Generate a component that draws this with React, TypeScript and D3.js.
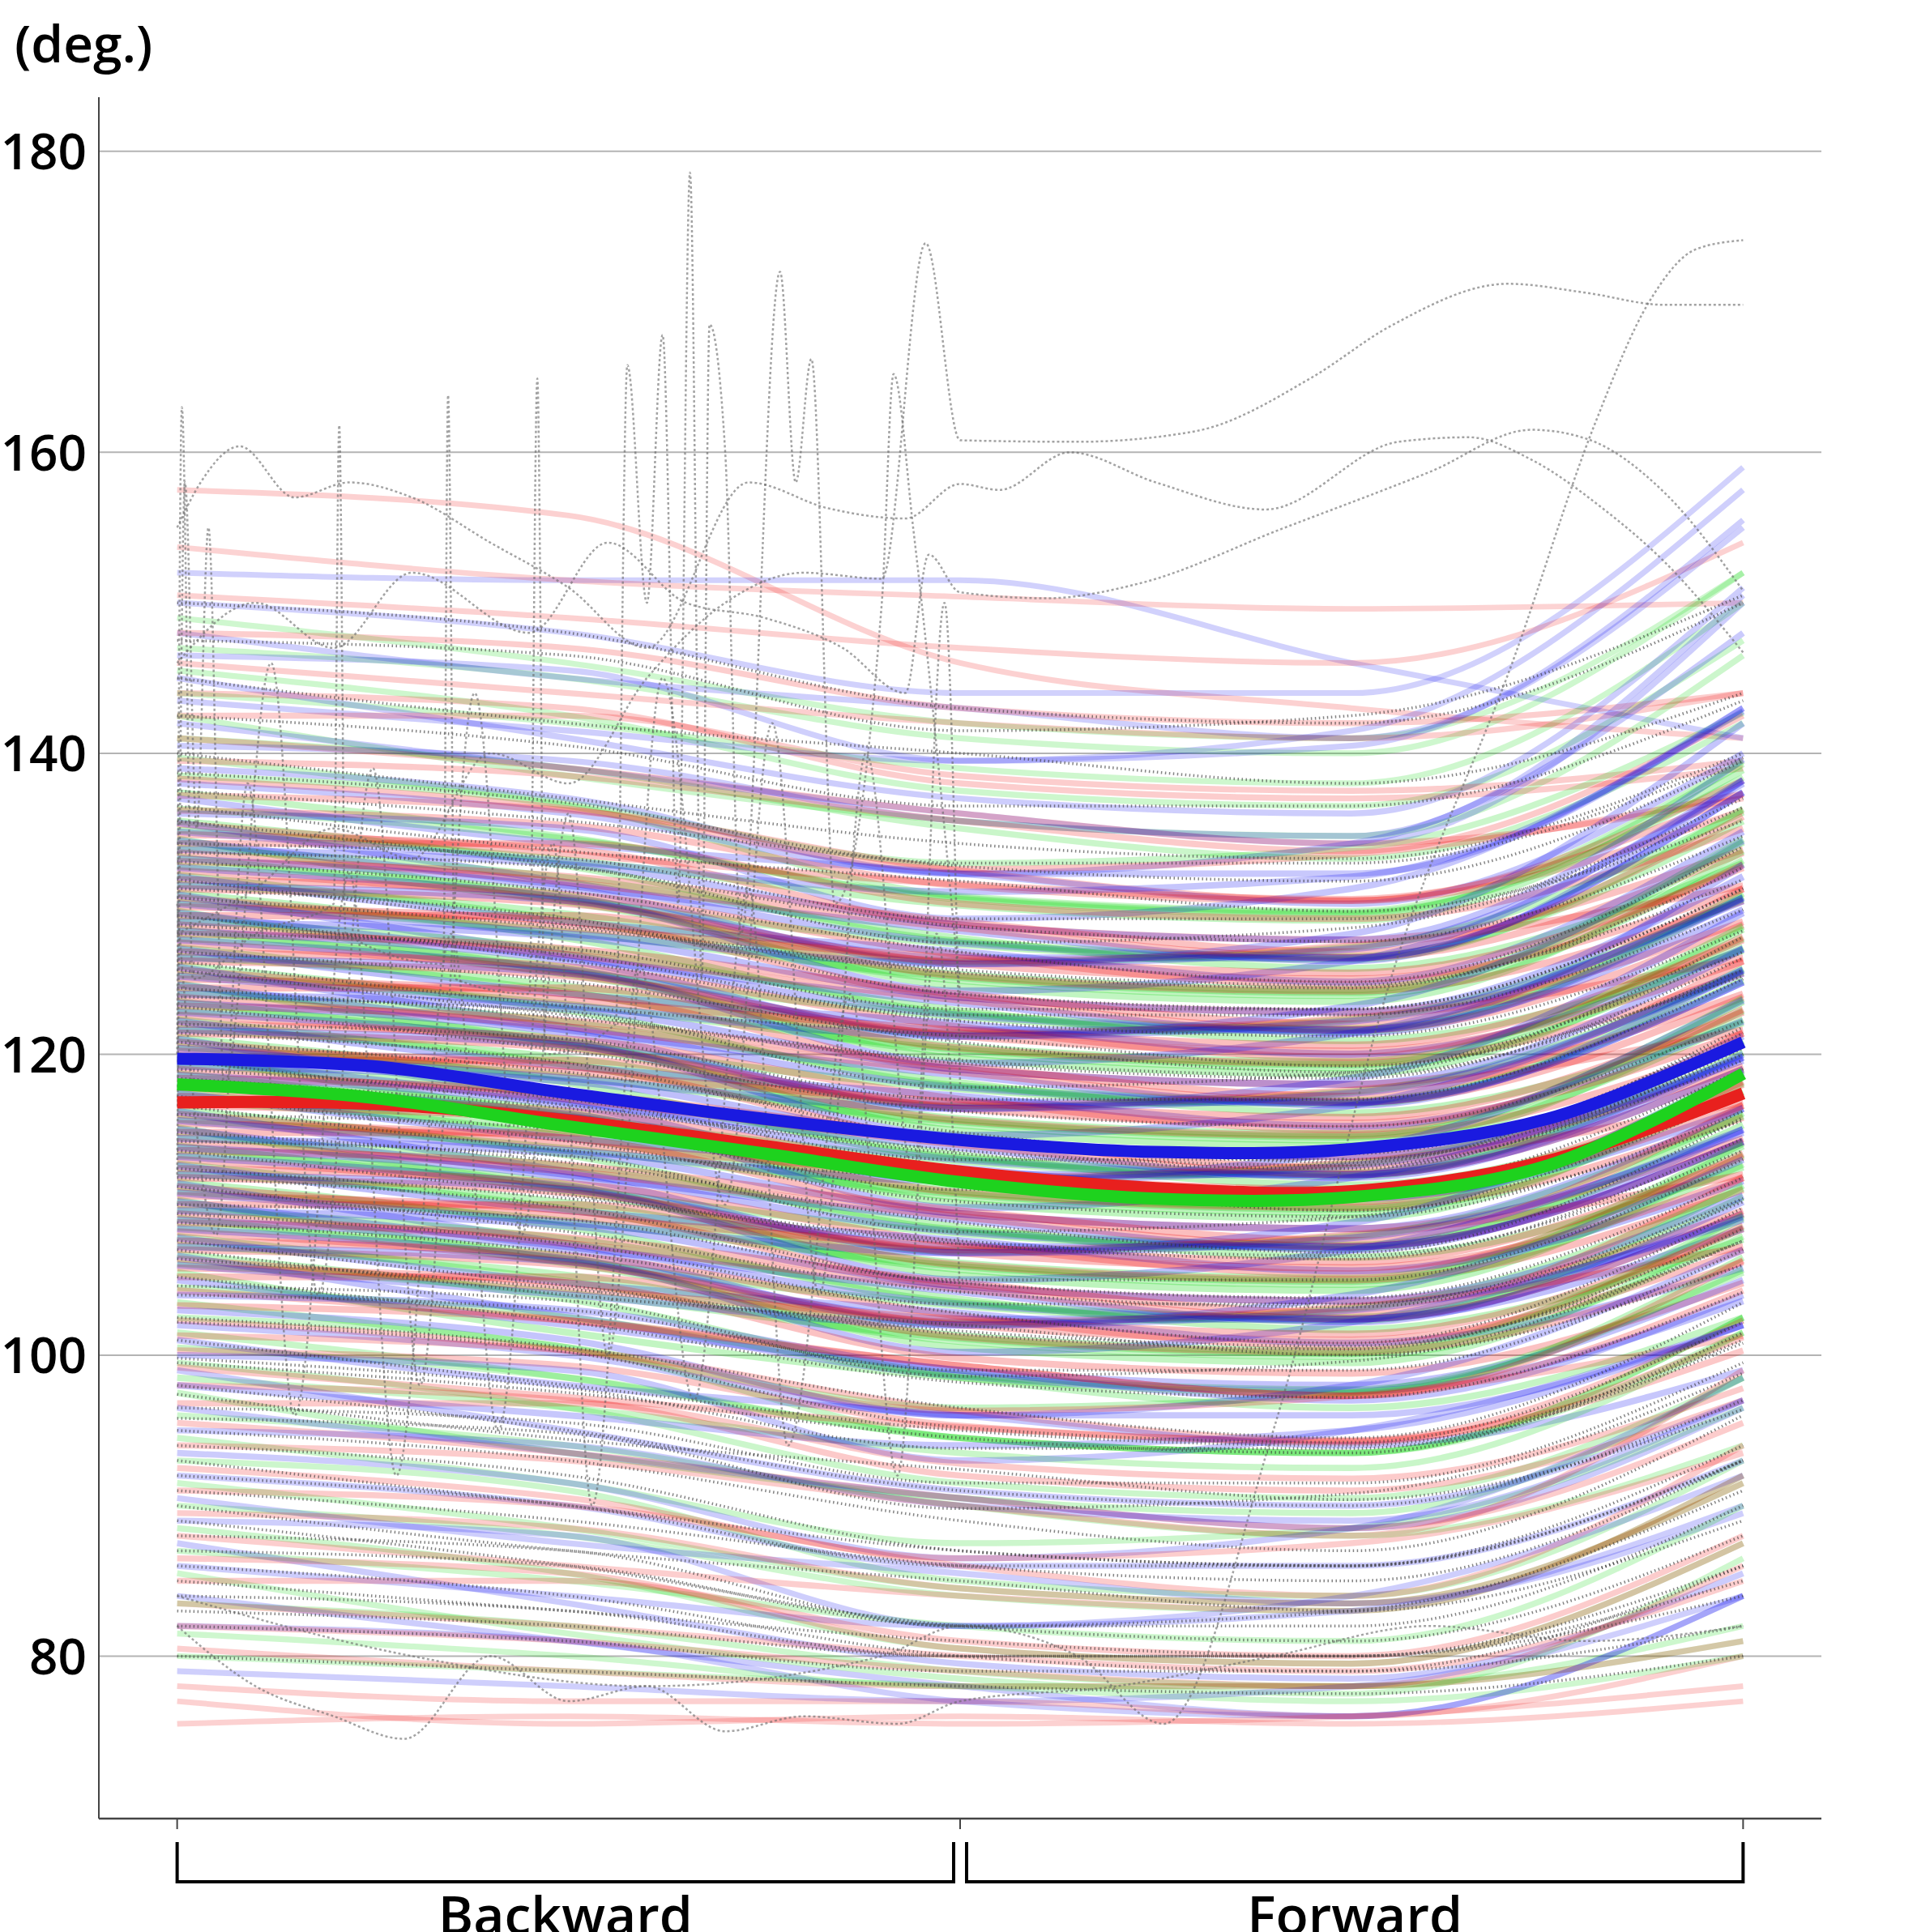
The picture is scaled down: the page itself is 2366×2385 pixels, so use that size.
import React from 'react';
import * as d3 from 'd3';

// sample positions: Backward phase 0..1, Forward phase 1..2
const phaseX = [0, 0.5, 1, 1.5, 2];
const meanX = [0, 0.25, 0.5, 0.75, 1, 1.25, 1.5, 1.75, 2];

const yTicks = [80, 100, 120, 140, 160, 180];
const phaseLabels = ['Backward', 'Forward'];

const meanRed = [116.8, 116.7, 115.6, 113.9, 112.2, 111.1, 110.9, 112.9, 117.4];
const meanGreen = [118.0, 117.1, 115.2, 113.4, 111.5, 110.4, 110.5, 112.6, 118.7];
const meanBlue = [119.7, 119.2, 117.4, 115.7, 114.3, 113.5, 113.7, 115.7, 120.8];

const redLines = [
  [157.5, 155.8, 146, 143, 141], [153.7, 151.5, 150.4, 149.6, 150], [150.5, 149, 147, 146, 154],
  [148, 147, 143, 142, 144], [146, 144, 142, 141, 144], [144, 143, 138, 137, 139],
  [142.5, 142.5, 138.5, 137.5, 139.5], [141, 139, 136, 134, 137], [139.5, 138.5, 135.5, 133.5, 142.5],
  [138.3, 136.3, 132.3, 133.3, 137.3], [137.2, 136.2, 132.2, 130.2, 138.2], [136.2, 135.2, 131.2, 130.2, 136.2],
  [135.3, 133.3, 131.3, 130.3, 137.3], [134.6, 133.6, 128.6, 127.6, 133.6], [134, 134, 130, 129, 135],
  [133.4, 131.4, 128.4, 126.4, 133.4], [132.8, 131.8, 128.8, 126.8, 135.8], [132.2, 130.2, 126.2, 127.2, 131.2],
  [131.6, 130.6, 126.6, 124.6, 132.6], [131, 130, 126, 125, 131], [130.4, 128.4, 126.4, 125.4, 132.4],
  [129.8, 128.8, 123.8, 122.8, 128.8], [129.2, 129.2, 125.2, 124.2, 130.2], [128.6, 126.6, 123.6, 121.6, 128.6],
  [128, 127, 124, 122, 131], [127.4, 125.4, 121.4, 122.4, 126.4], [126.8, 125.8, 121.8, 119.8, 127.8],
  [126.2, 125.2, 121.2, 120.2, 126.2], [125.6, 123.6, 121.6, 120.6, 127.6], [125, 124, 119, 118, 124],
  [124.4, 124.4, 120.4, 119.4, 125.4], [123.8, 121.8, 118.8, 116.8, 123.8], [123.2, 122.2, 119.2, 117.2, 126.2],
  [122.6, 120.6, 116.6, 117.6, 121.6], [122, 121, 117, 115, 123], [121.4, 120.4, 116.4, 115.4, 121.4],
  [120.8, 118.8, 116.8, 115.8, 122.8], [120.2, 119.2, 114.2, 113.2, 119.2], [119.6, 119.6, 115.6, 114.6, 120.6],
  [119, 117, 114, 112, 119], [118.4, 117.4, 114.4, 112.4, 121.4], [117.8, 115.8, 111.8, 112.8, 116.8],
  [117.2, 116.2, 112.2, 110.2, 118.2], [116.6, 115.6, 111.6, 110.6, 116.6], [116, 114, 112, 111, 118],
  [115.4, 114.4, 109.4, 108.4, 114.4], [114.8, 114.8, 110.8, 109.8, 115.8], [114.2, 112.2, 109.2, 107.2, 114.2],
  [113.6, 112.6, 109.6, 107.6, 116.6], [113, 111, 107, 108, 112], [112.4, 111.4, 107.4, 105.4, 113.4],
  [111.8, 110.8, 106.8, 105.8, 111.8], [111.2, 109.2, 107.2, 106.2, 113.2], [110.6, 109.6, 104.6, 103.6, 109.6],
  [110, 110, 106, 105, 111], [109.4, 107.4, 104.4, 102.4, 109.4], [108.8, 107.8, 104.8, 102.8, 111.8],
  [108.2, 106.2, 102.2, 103.2, 107.2], [107.6, 106.6, 102.6, 100.6, 108.6], [107, 106, 102, 101, 107],
  [106.4, 104.4, 102.4, 101.4, 108.4], [105.8, 104.8, 99.8, 98.8, 104.8], [105.2, 105.2, 101.2, 100.2, 106.2],
  [104.3, 102.3, 99.3, 97.3, 104.3], [103.3, 102.3, 99.3, 97.3, 106.3], [102.3, 100.3, 96.3, 97.3, 101.3],
  [101.3, 100.3, 96.3, 94.3, 102.3], [100.3, 99.3, 95.3, 94.3, 100.3], [99.2, 97.2, 95.2, 94.2, 101.2],
  [98, 97, 92, 91, 97], [96.8, 96.8, 92.8, 91.8, 97.8], [95.5, 93.5, 90.5, 88.5, 95.5],
  [94, 93, 90, 88, 99], [92.5, 90.5, 86.5, 87.5, 93.5], [91, 90, 86, 84, 94],
  [89.5, 88.5, 84.5, 83.5, 91.5], [88, 86, 84, 83, 92], [86.5, 85.5, 80.5, 79.5, 87.5],
  [85, 85, 81, 80, 88], [83.5, 82, 80, 79, 85], [82, 81, 79, 78, 86],
  [80.5, 79, 78, 78, 81], [78, 77, 77, 76, 80], [77, 75.5, 76, 75.5, 77], [75.5, 76, 75.5, 76, 78],
];

const greenLines = [
  [149, 146, 142, 141, 152], [147, 145, 141, 140, 152], [145.5, 142.5, 137.5, 136.5, 147.5],
  [144, 142, 139, 138, 150], [142.5, 138.5, 135.5, 134.5, 146.5], [141, 139, 135, 133, 142],
  [139.7, 136.7, 132.7, 133.7, 142.7], [138.5, 136.5, 130.5, 129.5, 139.5], [137.4, 134.4, 130.4, 129.4, 138.4],
  [136.3, 134.3, 130.3, 129.3, 139.3], [135.5, 132.5, 127.5, 126.5, 135.5], [134.9, 132.9, 129.9, 128.9, 138.9],
  [134.3, 130.3, 127.3, 126.3, 136.3], [133.7, 131.7, 127.7, 125.7, 132.7], [133.1, 130.1, 126.1, 127.1, 136.1],
  [132.5, 130.5, 124.5, 123.5, 133.5], [131.9, 128.9, 124.9, 123.9, 132.9], [131.3, 129.3, 125.3, 124.3, 134.3],
  [130.7, 127.7, 122.7, 121.7, 130.7], [130.1, 128.1, 125.1, 124.1, 134.1], [129.5, 125.5, 122.5, 121.5, 130.5],
  [128.9, 126.9, 122.9, 120.9, 126.9], [128.3, 125.3, 121.3, 122.3, 130.3], [127.7, 125.7, 119.7, 118.7, 127.7],
  [127.1, 124.1, 120.1, 119.1, 127.1], [126.5, 124.5, 120.5, 119.5, 128.5], [125.9, 122.9, 117.9, 116.9, 124.9],
  [125.3, 123.3, 120.3, 119.3, 128.3], [124.7, 120.7, 117.7, 116.7, 125.7], [124.1, 122.1, 118.1, 116.1, 122.1],
  [123.5, 120.5, 116.5, 117.5, 125.5], [122.9, 120.9, 114.9, 113.9, 122.9], [122.3, 119.3, 115.3, 114.3, 122.3],
  [121.7, 119.7, 115.7, 114.7, 123.7], [121.1, 118.1, 113.1, 112.1, 120.1], [120.5, 118.5, 115.5, 114.5, 123.5],
  [119.9, 115.9, 112.9, 111.9, 120.9], [119.3, 117.3, 113.3, 111.3, 117.3], [118.7, 115.7, 111.7, 112.7, 120.7],
  [118.1, 116.1, 110.1, 109.1, 118.1], [117.5, 114.5, 110.5, 109.5, 117.5], [116.9, 114.9, 110.9, 109.9, 118.9],
  [116.3, 113.3, 108.3, 107.3, 115.3], [115.7, 113.7, 110.7, 109.7, 118.7], [115.1, 111.1, 108.1, 107.1, 116.1],
  [114.5, 112.5, 108.5, 106.5, 112.5], [113.9, 110.9, 106.9, 107.9, 115.9], [113.3, 111.3, 105.3, 104.3, 113.3],
  [112.7, 109.7, 105.7, 104.7, 112.7], [112.1, 110.1, 106.1, 105.1, 114.1], [111.5, 108.5, 103.5, 102.5, 110.5],
  [110.9, 108.9, 105.9, 104.9, 113.9], [110.3, 106.3, 103.3, 102.3, 111.3], [109.7, 107.7, 103.7, 101.7, 107.7],
  [109.1, 106.1, 102.1, 103.1, 111.1], [108.5, 106.5, 100.5, 99.5, 108.5], [107.9, 104.9, 100.9, 99.9, 107.9],
  [107.3, 105.3, 101.3, 100.3, 109.3], [106.7, 103.7, 98.7, 97.7, 105.7], [106.1, 104.1, 101.1, 100.1, 109.1],
  [105.5, 101.5, 98.5, 97.5, 106.5], [104.5, 102.5, 98.5, 96.5, 102.5], [103.5, 100.5, 96.5, 97.5, 105.5],
  [102.5, 100.5, 94.5, 93.5, 102.5], [101.5, 98.5, 94.5, 93.5, 101.5], [100.5, 98.5, 94.5, 93.5, 102.5],
  [99.5, 96.5, 91.5, 90.5, 98.5], [98.5, 96.5, 93.5, 92.5, 101.5], [97.5, 93.5, 90.5, 89.5, 98.5],
  [96, 94, 90, 88, 94], [94.5, 91.5, 87.5, 88.5, 96.5], [93, 91, 85, 84, 93],
  [91.5, 88.5, 84.5, 83.5, 91.5], [90, 88, 84, 83, 92], [88.5, 85.5, 80.5, 79.5, 87.5],
  [87, 85, 82, 81, 90], [85.5, 81.5, 78.5, 77.5, 86.5], [83.5, 82, 79, 78, 82],
  [81.5, 80, 78, 78, 81], [80, 79, 78, 77, 80],
];

const blueLines = [
  [152, 151.5, 151.5, 146, 141], [150, 148, 144, 144, 159], [148, 145, 143, 141, 155],
  [146.5, 145.5, 139.5, 141.5, 157.5], [145, 141, 137, 136, 151], [143.5, 141.5, 139.5, 140.5, 155.5],
  [142, 139, 136, 134, 150], [140.5, 139.5, 135.5, 134.5, 150.5], [139, 137, 132, 134, 148],
  [138, 136, 132, 132, 143], [137, 134, 132, 130, 140], [136, 135, 129, 131, 143],
  [135.4, 131.4, 127.4, 126.4, 137.4], [134.8, 132.8, 130.8, 131.8, 142.8], [134.2, 131.2, 128.2, 126.2, 138.2],
  [133.6, 132.6, 128.6, 127.6, 139.6], [133, 131, 126, 128, 142], [132.4, 130.4, 126.4, 126.4, 137.4],
  [131.8, 128.8, 126.8, 124.8, 134.8], [131.2, 130.2, 124.2, 126.2, 138.2], [130.6, 126.6, 122.6, 121.6, 132.6],
  [130, 128, 126, 127, 138], [129.4, 126.4, 123.4, 121.4, 130.4], [128.8, 127.8, 123.8, 122.8, 131.8],
  [128.2, 126.2, 121.2, 123.2, 134.2], [127.6, 125.6, 121.6, 121.6, 129.6], [127, 124, 122, 120, 127],
  [126.4, 125.4, 119.4, 121.4, 130.4], [125.8, 121.8, 117.8, 116.8, 124.8], [125.2, 123.2, 121.2, 122.2, 130.2],
  [124.6, 121.6, 118.6, 116.6, 125.6], [124, 123, 119, 118, 127], [123.4, 121.4, 116.4, 118.4, 129.4],
  [122.8, 120.8, 116.8, 116.8, 124.8], [122.2, 119.2, 117.2, 115.2, 122.2], [121.6, 120.6, 114.6, 116.6, 125.6],
  [121, 117, 113, 112, 120], [120.4, 118.4, 116.4, 117.4, 125.4], [119.8, 116.8, 113.8, 111.8, 119.8],
  [119.2, 118.2, 114.2, 113.2, 121.2], [118.6, 116.6, 111.6, 113.6, 123.6], [118, 116, 112, 112, 119],
  [117.4, 114.4, 112.4, 110.4, 116.4], [116.8, 115.8, 109.8, 111.8, 119.8], [116.2, 112.2, 108.2, 107.2, 114.2],
  [115.6, 113.6, 111.6, 112.6, 119.6], [115, 112, 109, 107, 115], [114.4, 113.4, 109.4, 108.4, 116.4],
  [113.8, 111.8, 106.8, 108.8, 118.8], [113.2, 111.2, 107.2, 107.2, 114.2], [112.6, 109.6, 107.6, 105.6, 111.6],
  [112, 111, 105, 107, 115], [111.4, 107.4, 103.4, 102.4, 109.4], [110.8, 108.8, 106.8, 107.8, 114.8],
  [110.2, 107.2, 104.2, 102.2, 110.2], [109.6, 108.6, 104.6, 103.6, 110.6], [109, 107, 102, 104, 113],
  [108.4, 106.4, 102.4, 102.4, 108.4], [107.8, 104.8, 102.8, 100.8, 105.8], [107.2, 106.2, 100.2, 102.2, 109.2],
  [106.6, 102.6, 98.6, 97.6, 103.6], [106, 104, 102, 103, 109], [105, 102, 99, 97, 104],
  [104, 103, 99, 98, 105], [103, 101, 96, 98, 107], [102, 100, 96, 96, 102],
  [101, 98, 96, 94, 99], [100, 99, 93, 95, 102], [99, 95, 91, 90, 97],
  [98, 96, 94, 95, 102], [96.5, 93.5, 90.5, 88.5, 96.5], [95, 94, 90, 89, 97],
  [93.5, 91.5, 86.5, 88.5, 98.5], [92, 90, 86, 86, 93], [90.5, 87.5, 85.5, 83.5, 89.5],
  [89, 88, 82, 84, 92], [87.5, 83.5, 79.5, 78.5, 85.5], [86, 84, 82, 83, 90],
  [84, 81, 78, 76, 84], [82, 81, 77, 76, 84], [79, 78, 77, 78, 84],
];

const dottedLines = [
  [150, 148, 143, 142, 150], [147.5, 146.5, 141.5, 142.5, 150.5], [145, 142, 140, 138, 144],
  [142.5, 140.5, 136.5, 136.5, 143.5], [140, 137, 134, 133, 140], [138.7, 136.7, 132.7, 132.7, 139.7],
  [137.5, 135.5, 132.5, 131.5, 139.5], [136.5, 133.5, 131.5, 129.5, 135.5], [135.5, 132.5, 128.5, 127.5, 134.5],
  [134, 133, 129, 129, 137], [133.4, 132.4, 127.4, 128.4, 136.4], [132.8, 130.8, 126.8, 124.8, 133.8],
  [131.6, 128.6, 125.6, 124.6, 131.6], [131, 129, 124, 123, 131], [130.4, 128.4, 125.4, 124.4, 132.4],
  [129.2, 126.2, 122.2, 121.2, 128.2], [128.6, 126.6, 122.6, 122.6, 129.6], [128, 127, 123, 123, 131],
  [126.8, 124.8, 120.8, 118.8, 127.8], [126.2, 123.2, 121.2, 119.2, 125.2], [125.6, 122.6, 119.6, 118.6, 125.6],
  [124.4, 122.4, 119.4, 118.4, 126.4], [123.8, 122.8, 117.8, 118.8, 126.8], [123.2, 120.2, 116.2, 115.2, 122.2],
  [122, 121, 117, 117, 125], [121.4, 119.4, 114.4, 113.4, 121.4], [120.8, 118.8, 114.8, 112.8, 121.8],
  [119.6, 116.6, 113.6, 112.6, 119.6], [119, 117, 113, 113, 120], [118.4, 116.4, 113.4, 112.4, 120.4],
  [117.2, 114.2, 110.2, 109.2, 116.2], [116.6, 113.6, 111.6, 109.6, 115.6], [116, 115, 111, 111, 119],
  [114.8, 112.8, 108.8, 106.8, 115.8], [114.2, 113.2, 108.2, 109.2, 117.2], [113.6, 110.6, 107.6, 106.6, 113.6],
  [112.4, 110.4, 107.4, 106.4, 114.4], [111.8, 109.8, 104.8, 103.8, 111.8], [111.2, 108.2, 104.2, 103.2, 110.2],
  [110, 109, 105, 105, 113], [109.4, 107.4, 103.4, 103.4, 110.4], [108.8, 106.8, 102.8, 100.8, 109.8],
  [107.6, 104.6, 101.6, 100.6, 107.6], [107, 104, 102, 100, 106], [106.4, 104.4, 101.4, 100.4, 108.4],
  [105.2, 102.2, 98.2, 97.2, 104.2], [104.6, 103.6, 98.6, 99.6, 107.6], [104, 103, 99, 99, 107],
  [102.5, 100.5, 96.5, 94.5, 103.5], [102.2, 100.2, 95.2, 94.2, 102.2], [101, 98, 95, 94, 101],
  [99.8, 97.8, 93.8, 93.8, 100.8], [99.5, 97.5, 94.5, 93.5, 101.5], [98, 95, 91, 90, 97],
  [97.4, 94.4, 92.4, 90.4, 96.4], [96.5, 95.5, 91.5, 91.5, 99.5], [95.8, 94.8, 89.8, 90.8, 98.8],
  [95, 93, 89, 87, 96], [94, 92, 87, 86, 94], [93, 90, 87, 86, 93],
  [92, 90, 86, 86, 93], [91, 89, 86, 85, 93], [90, 87, 85, 83, 89],
  [89, 86, 82, 81, 88], [88, 87, 82, 83, 91], [87, 86, 82, 82, 90],
  [86, 84, 80, 79, 86], [85, 83, 81, 80, 86], [84, 83, 80, 80, 85],
  [83, 82, 80, 80, 84], [82, 81, 79, 79, 82], [80, 79, 78, 77.5, 80],
];

// irregular dotted traces: [phase position, degrees]
const outlierA: [number, number][] = [
  [0, 128], [0.1, 131], [0.2, 135], [0.3, 133], [0.4, 140], [0.5, 138], [0.6, 145], [0.7, 150],
  [0.8, 152], [0.9, 151.6], [0.956, 173.9], [1.0, 160.8], [1.15, 160.7], [1.3, 161.4], [1.45, 165],
  [1.55, 168.4], [1.7, 171.2], [1.8, 170.6], [1.9, 169.8], [2.0, 169.8],
];
const outlierB: [number, number][] = [
  [0, 155], [0.03, 158], [0.08, 160.4], [0.15, 157], [0.22, 158], [0.3, 157], [0.4, 154],
  [0.5, 151], [0.6, 147], [0.73, 158], [0.83, 156.3], [0.93, 155.6], [1.0, 157.9], [1.05, 157.5],
  [1.14, 160], [1.25, 158], [1.39, 156.2], [1.56, 160.7], [1.65, 161], [1.73, 159.5], [1.82, 156.3],
  [1.9, 152.7], [2.0, 146.7],
];
const outlierC: [number, number][] = [
  [0, 146], [0.1, 150], [0.2, 147], [0.3, 152], [0.45, 148], [0.55, 154], [0.65, 150], [0.75, 149],
  [0.85, 147], [0.93, 144], [0.96, 153.2], [1.0, 150.7], [1.11, 150.3], [1.23, 151.3], [1.41, 154.9],
  [1.6, 158.7], [1.73, 161.5], [1.8, 160.9], [1.9, 157.3], [2.0, 150.8],
];
const outlierD: [number, number][] = [
  [0, 84], [0.3, 80], [0.6, 78], [0.9, 80], [1.0, 82], [1.15, 80], [1.26, 75.5], [1.4, 95],
  [1.55, 125], [1.71, 146.7], [1.81, 161.8], [1.88, 170], [1.94, 173.5], [2.0, 174.1],
];
const spikesA: [number, number][] = [
  [0, 120], [0.006, 163], [0.02, 125], [0.1, 128], [0.2, 130], [0.207, 161.8], [0.215, 128],
  [0.34, 126], [0.346, 163.8], [0.355, 125], [0.45, 124], [0.46, 164.9], [0.47, 120], [0.56, 122],
  [0.575, 165.8], [0.6, 150], [0.62, 167.8], [0.64, 130], [0.655, 178.6], [0.67, 125], [0.68, 168.5],
  [0.7, 160], [0.72, 128], [0.77, 172], [0.79, 158], [0.81, 166.2], [0.84, 130], [0.9, 150],
  [0.915, 165.2], [0.94, 155], [1.0, 124],
];
const spikesB: [number, number][] = [
  [0, 112], [0.01, 158], [0.025, 135], [0.04, 155], [0.06, 118], [0.12, 146], [0.18, 104],
  [0.25, 139], [0.31, 98], [0.38, 144], [0.44, 108], [0.5, 136], [0.55, 100], [0.62, 145],
  [0.7, 110], [0.76, 142], [0.82, 104], [0.88, 140], [0.94, 112], [0.98, 150], [1.0, 118],
];
const spikesC: [number, number][] = [
  [0, 82], [0.1, 78], [0.2, 76], [0.29, 74.5], [0.4, 80], [0.5, 77], [0.6, 78], [0.7, 75],
  [0.8, 76], [0.92, 75.5], [1.0, 77], [1.2, 78], [1.4, 80], [1.6, 82], [1.8, 81], [2.0, 82],
];
const spikesD: [number, number][] = [
  [0, 130], [0.05, 108], [0.09, 138], [0.15, 96], [0.22, 132], [0.28, 92], [0.35, 128], [0.41, 95],
  [0.48, 134], [0.53, 90], [0.59, 126], [0.66, 97], [0.73, 131], [0.78, 94], [0.86, 124], [0.92, 92],
  [0.97, 128], [1.0, 104],
];
const outliers = [outlierA, outlierB, outlierC, outlierD, spikesA, spikesB, spikesC, spikesD];

const font = '"Open Sans", "Noto Sans", sans-serif';

const App: React.FC = () => {
  const x = d3.scaleLinear().domain([-0.1, 2.1]).range([122, 2248]);
  const y = d3.scaleLinear().domain([69.2, 183.6]).range([2245, 120]);

  const line5 = d3.line<number>()
    .x((_, i) => x(phaseX[i]))
    .y(v => y(v))
    .curve(d3.curveMonotoneX);

  const lineMean = d3.line<number>()
    .x((_, i) => x(meanX[i]))
    .y(v => y(v))
    .curve(d3.curveCatmullRom.alpha(0.5));

  const linePts = d3.line<[number, number]>()
    .x(p => x(p[0]))
    .y(p => y(p[1]))
    .curve(d3.curveMonotoneX);

  // the original has hundreds of overlapping traces; lines in the crowded
  // band get a slightly wider stroke so the overlap reads about the same
  const all = [...redLines, ...greenLines, ...blueLines];
  const centres = all.map(v => d3.mean(v) || 0);
  const crowd = (v: number[]) => {
    const c = d3.mean(v) || 0;
    return centres.filter(m => Math.abs(m - c) < 5).length;
  };
  const maxCrowd = d3.max(all, crowd) || 1;
  const style = (v: number[]) => {
    const k = crowd(v) / maxCrowd;
    return { op: 0.16 + 0.1 * k, w: 6.5 + 2.5 * k };
  };

  // interleave the three colour groups so no colour sits on top everywhere
  const n = Math.max(redLines.length, greenLines.length, blueLines.length);
  const faint: { d: string; color: string; op: number; w: number }[] = [];
  const push = (v: number[] | undefined, color: string) => {
    if (!v) return;
    faint.push({ d: line5(v) || '', color, ...style(v) });
  };
  for (let i = 0; i < n; i++) {
    push(redLines[i], '#f00000');
    push(greenLines[i], '#00d400');
    push(blueLines[i], '#0000f0');
  }

  const axisBottom = y.range()[0];
  const bracketTop = 2274;
  const bracketBottom = 2323;

  return (
    <svg width={2366} height={2385} style={{ position: 'absolute', left: 0, top: 0, background: '#fff' }}>
      <text x={18} y={77} fontFamily={font} fontWeight={600} fontSize={64} fill="#000">(deg.)</text>

      {yTicks.map(t => (
        <g key={t}>
          <line x1={x.range()[0]} x2={x.range()[1]} y1={y(t)} y2={y(t)} stroke="#b4b4b4" strokeWidth={2} />
          <text x={107} y={y(t)} dy="0.36em" textAnchor="end" fontFamily={font} fontWeight={600} fontSize={62} fill="#000">{t}</text>
        </g>
      ))}

      <g fill="none" strokeLinejoin="round">
        {faint.map((f, i) => (
          <path key={i} d={f.d} stroke={f.color} strokeOpacity={f.op} strokeWidth={f.w} />
        ))}
        {dottedLines.map((v, i) => (
          <path key={'d' + i} d={line5(v) || ''} stroke="#333" strokeOpacity={0.6} strokeWidth={3.5} strokeDasharray="1.5 3.5" />
        ))}
        {outliers.map((pts, i) => (
          <path key={'o' + i} d={linePts(pts) || ''} stroke="#666" strokeOpacity={0.6} strokeWidth={2.5} strokeDasharray="3 3" />
        ))}
        <path d={lineMean(meanRed) || ''} stroke="#e8201e" strokeWidth={15} />
        <path d={lineMean(meanGreen) || ''} stroke="#1ed21e" strokeWidth={15} />
        <path d={lineMean(meanBlue) || ''} stroke="#1a1ae0" strokeWidth={15} />
      </g>

      <line x1={x.range()[0]} x2={x.range()[0]} y1={y.range()[1]} y2={axisBottom} stroke="#444" strokeWidth={2} />
      <line x1={x.range()[0]} x2={x.range()[1]} y1={axisBottom} y2={axisBottom} stroke="#444" strokeWidth={2.5} />
      {[0, 1, 2].map(t => (
        <line key={t} x1={x(t)} x2={x(t)} y1={axisBottom} y2={axisBottom + 13} stroke="#444" strokeWidth={2} />
      ))}

      {phaseLabels.map((label, i) => {
        const x0 = x(i) + (i === 0 ? 0 : 8);
        const x1 = x(i + 1) - (i === 0 ? 8 : 0);
        return (
          <g key={label}>
            <path d={`M${x0},${bracketTop}V${bracketBottom}H${x1}V${bracketTop}`} fill="none" stroke="#000" strokeWidth={4} />
            <text x={(x0 + x1) / 2} y={2388} textAnchor="middle" fontFamily={font} fontWeight={600} fontSize={66} fill="#000">{label}</text>
          </g>
        );
      })}
    </svg>
  );
};

export default App;
